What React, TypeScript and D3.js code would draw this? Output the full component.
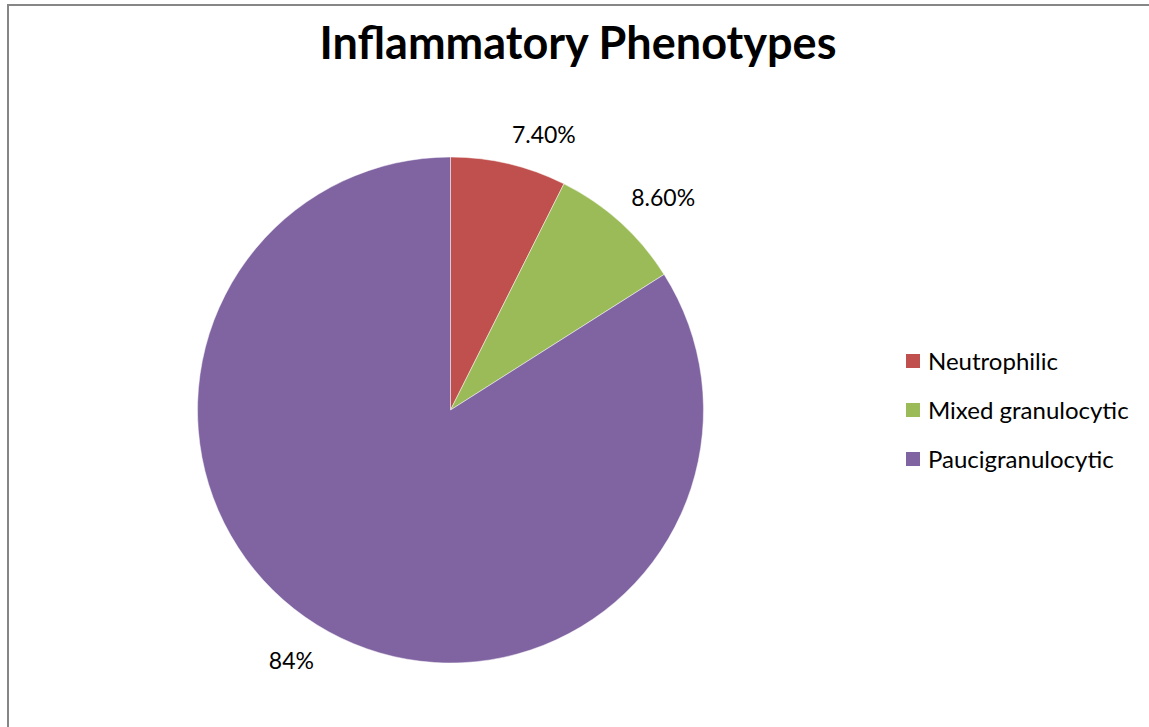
import React, { useEffect, useRef } from "react";
import * as d3 from "d3";

const categories = ["Neutrophilic", "Mixed granulocytic", "Paucigranulocytic"];
const values = [7.4, 8.6, 84];
const valueLabels = ["7.40%", "8.60%", "84%"];
const colors = ["#C0504D", "#9BBB59", "#8064A2"];

const W = 1149;
const H = 727;
const FONT = "Lato, 'Open Sans', 'Noto Sans', sans-serif";

export default function App() {
  const ref = useRef<SVGSVGElement>(null);

  useEffect(() => {
    const svg = d3.select(ref.current);
    svg.selectAll("*").remove();

    // chart frame, runs off the right and bottom
    svg
      .append("rect")
      .attr("x", 8)
      .attr("y", 5)
      .attr("width", W + 20)
      .attr("height", H + 20)
      .attr("fill", "#fff")
      .attr("stroke", "#868686")
      .attr("stroke-width", 2);

    svg
      .append("text")
      .attr("x", 578)
      .attr("y", 59)
      .attr("text-anchor", "middle")
      .attr("font-family", FONT)
      .attr("font-weight", "bold")
      .attr("font-size", 45)
      .attr("fill", "#000")
      .text("Inflammatory Phenotypes");

    const cx = 450.5;
    const cy = 410;
    const r = 253;

    const data = categories.map((c, i) => ({ name: c, value: values[i], label: valueLabels[i], color: colors[i] }));
    const pie = d3.pie<any>().value((d) => d.value).sort(null);
    const arc = d3.arc<any>().innerRadius(0).outerRadius(r);
    const arcs = pie(data);

    const g = svg.append("g").attr("transform", `translate(${cx},${cy})`);
    g.selectAll("path")
      .data(arcs)
      .enter()
      .append("path")
      .attr("d", arc)
      .attr("fill", (d) => d.data.color)
      .attr("stroke", "#ffffff")
      .attr("stroke-opacity", 0.6)
      .attr("stroke-width", 0.8);

    // labels just outside the edge, box corner touching the point
    const lr = r + 18;
    g.selectAll("text.lbl")
      .data(arcs)
      .enter()
      .append("text")
      .attr("class", "lbl")
      .each(function (d) {
        const a = (d.startAngle + d.endAngle) / 2;
        const x = lr * Math.sin(a);
        const y = -lr * Math.cos(a);
        d3.select(this)
          .attr("x", Math.sin(a) >= 0 ? x - 1 : x - 6)
          .attr("y", Math.cos(a) > 0 ? y - 3 : y + 22)
          .attr("text-anchor", Math.sin(a) >= 0 ? "start" : "end");
      })
      .attr("font-family", FONT)
      .attr("font-size", 23)
      .attr("fill", "#000")
      .text((d) => d.data.label);

    const leg = svg.append("g").attr("transform", "translate(906,361)");
    const rows = leg
      .selectAll("g")
      .data(data)
      .enter()
      .append("g")
      .attr("transform", (d, i) => `translate(0,${i * 49})`);
    rows
      .append("rect")
      .attr("x", 0)
      .attr("y", -7)
      .attr("width", 14)
      .attr("height", 14)
      .attr("fill", (d) => d.color);
    rows
      .append("text")
      .attr("x", 22)
      .attr("y", 8.5)
      .attr("font-family", FONT)
      .attr("font-size", 24)
      .attr("fill", "#000")
      .text((d) => d.name);
  }, []);

  return (
    <svg
      ref={ref}
      width={W}
      height={H}
      style={{ position: "absolute", left: 0, top: 0, background: "#fff" }}
    />
  );
}
